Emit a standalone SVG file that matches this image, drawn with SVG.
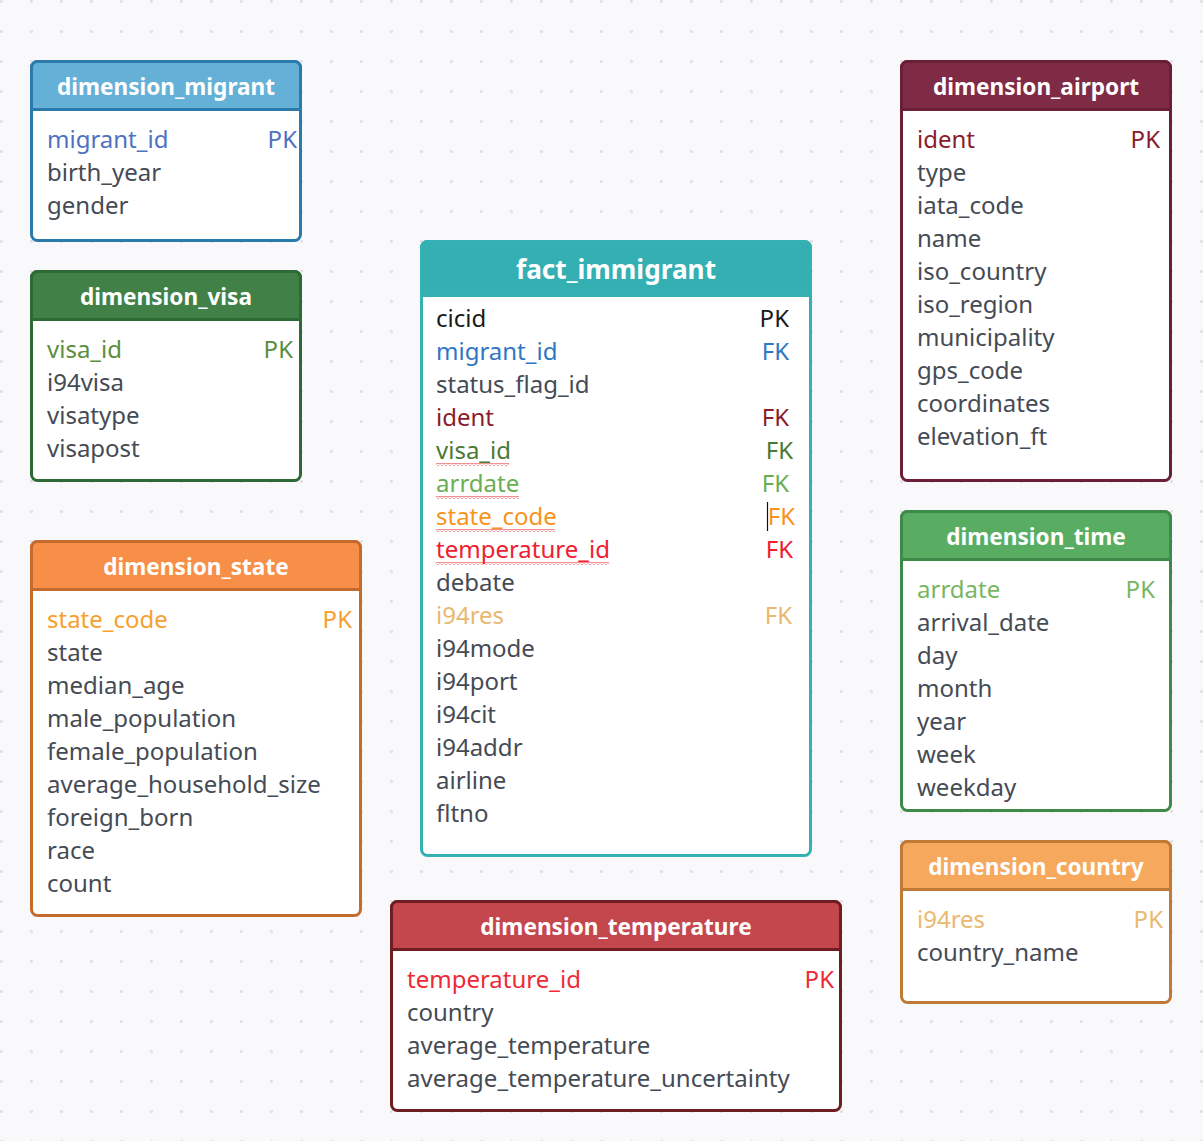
<svg xmlns="http://www.w3.org/2000/svg" width="1203" height="1141" viewBox="0 0 1203 1141">
<defs>
<pattern id="dots" x="0" y="0" width="30" height="30" patternUnits="userSpaceOnUse">
<circle cx="1.5" cy="1.5" r="1.6" fill="#e2e2e6"/>
</pattern>
<pattern id="squig" x="0" y="0" width="4" height="3" patternUnits="userSpaceOnUse">
<path d="M0,2.5 L2,0.5 L4,2.5" fill="none" stroke="#e8222a" stroke-width="1"/>
</pattern>
<style>
.f{font-family:"Noto Sans","Open Sans","DejaVu Sans",sans-serif;font-size:24px;fill:#454b54}
.h{font-family:"Noto Sans","Open Sans","DejaVu Sans",sans-serif;font-size:22.6px;font-weight:bold;fill:#ffffff;text-anchor:middle}
.hb{font-size:26.2px}
.r{text-anchor:end}
.body{fill:#ffffff;stroke-width:3}
</style>
</defs>
<rect width="1203" height="1141" fill="#f9f9fb"/>
<rect width="1203" height="1141" fill="url(#dots)"/>

<g id="dimension_migrant">
<rect x="31.5" y="61.5" width="269" height="179" rx="6" class="body" stroke="#2a7aab"/>
<path d="M31.5,109.5 V67.5 a6,6 0 0 1 6,-6 H294.5 a6,6 0 0 1 6,6 V109.5 Z" fill="#65b0d6" stroke="#2a7aab" stroke-width="3"/>
<text x="166" y="95" class="h">dimension_migrant</text>
<text x="47" y="148" class="f" style="fill:#4f72c0">migrant_id</text>
<text x="297" y="148" class="f r" style="fill:#4f72c0">PK</text>
<text x="47" y="181" class="f">birth_year</text>
<text x="47" y="214" class="f">gender</text>
</g>

<g id="dimension_visa">
<rect x="31.5" y="271.5" width="269" height="209" rx="6" class="body" stroke="#2d6a35"/>
<path d="M31.5,319.5 V277.5 a6,6 0 0 1 6,-6 H294.5 a6,6 0 0 1 6,6 V319.5 Z" fill="#418147" stroke="#2d6a35" stroke-width="3"/>
<text x="166" y="305" class="h">dimension_visa</text>
<text x="47" y="358" class="f" style="fill:#5a8f3e">visa_id</text>
<text x="293" y="358" class="f r" style="fill:#5a8f3e">PK</text>
<text x="47" y="391" class="f">i94visa</text>
<text x="47" y="424" class="f">visatype</text>
<text x="47" y="457" class="f">visapost</text>
</g>

<g id="dimension_state">
<rect x="31.5" y="541.5" width="329" height="374" rx="6" class="body" stroke="#c46a2c"/>
<path d="M31.5,589.5 V547.5 a6,6 0 0 1 6,-6 H354.5 a6,6 0 0 1 6,6 V589.5 Z" fill="#f88f48" stroke="#c46a2c" stroke-width="3"/>
<text x="196" y="575" class="h">dimension_state</text>
<text x="47" y="628" class="f" style="fill:#f7a02e">state_code</text>
<text x="352" y="628" class="f r" style="fill:#f7a02e">PK</text>
<text x="47" y="661" class="f">state</text>
<text x="47" y="694" class="f">median_age</text>
<text x="47" y="727" class="f">male_population</text>
<text x="47" y="760" class="f">female_population</text>
<text x="47" y="793" class="f">average_household_size</text>
<text x="47" y="826" class="f">foreign_born</text>
<text x="47" y="859" class="f">race</text>
<text x="47" y="892" class="f">count</text>
</g>

<g id="fact_immigrant">
<rect x="421.5" y="241.5" width="389" height="614" rx="6" class="body" stroke="#35b1b4"/>
<path d="M421.5,295.5 V247.5 a6,6 0 0 1 6,-6 H804.5 a6,6 0 0 1 6,6 V295.5 Z" fill="#34b0b3" stroke="#35b1b4" stroke-width="3"/>
<text x="616" y="279" class="h hb">fact_immigrant</text>
<text x="436" y="327" class="f" style="fill:#1a1a1a">cicid</text>
<text x="789" y="327" class="f r" style="fill:#1a1a1a">PK</text>
<text x="436" y="360" class="f" style="fill:#2f77c4">migrant_id</text>
<text x="789" y="360" class="f r" style="fill:#2f77c4">FK</text>
<text x="436" y="393" class="f">status_flag_id</text>
<text x="436" y="426" class="f" style="fill:#8b1c2b">ident</text>
<text x="789" y="426" class="f r" style="fill:#8b1c2b">FK</text>
<text x="436" y="459" class="f" style="fill:#4b7a35">visa_id</text>
<text x="793" y="459" class="f r" style="fill:#4b7a35">FK</text>
<text x="436" y="492" class="f" style="fill:#6aae53">arrdate</text>
<text x="789" y="492" class="f r" style="fill:#6aae53">FK</text>
<text x="436" y="525" class="f" style="fill:#f7941d">state_code</text>
<text x="795" y="525" class="f r" style="fill:#f7941d">FK</text>
<text x="436" y="558" class="f" style="fill:#ee2030">temperature_id</text>
<text x="793" y="558" class="f r" style="fill:#ee2030">FK</text>
<text x="436" y="591" class="f">debate</text>
<text x="436" y="624" class="f" style="fill:#e9b870">i94res</text>
<text x="792" y="624" class="f r" style="fill:#e9b870">FK</text>
<text x="436" y="657" class="f">i94mode</text>
<text x="436" y="690" class="f">i94port</text>
<text x="436" y="723" class="f">i94cit</text>
<text x="436" y="756" class="f">i94addr</text>
<text x="436" y="789" class="f">airline</text>
<text x="436" y="822" class="f">fltno</text>
<line x1="767.5" y1="502" x2="767.5" y2="531" stroke="#111" stroke-width="1.2"/>
<rect x="436" y="463" width="73" height="3" fill="url(#squig)"/>
<rect x="436" y="496" width="83" height="3" fill="url(#squig)"/>
<rect x="436" y="529" width="119" height="3" fill="url(#squig)"/>
<rect x="436" y="562" width="173" height="3" fill="url(#squig)"/>
</g>

<g id="dimension_temperature">
<rect x="391.5" y="901.5" width="449" height="209" rx="6" class="body" stroke="#6e1e23"/>
<path d="M391.5,949.5 V907.5 a6,6 0 0 1 6,-6 H834.5 a6,6 0 0 1 6,6 V949.5 Z" fill="#c5474e" stroke="#6e1e23" stroke-width="3"/>
<text x="616" y="935" class="h">dimension_temperature</text>
<text x="407" y="988" class="f" style="fill:#ef2a36">temperature_id</text>
<text x="834" y="988" class="f r" style="fill:#ef2a36">PK</text>
<text x="407" y="1021" class="f">country</text>
<text x="407" y="1054" class="f">average_temperature</text>
<text x="407" y="1087" class="f">average_temperature_uncertainty</text>
</g>

<g id="dimension_airport">
<rect x="901.5" y="61.5" width="269" height="419" rx="6" class="body" stroke="#6a1f37"/>
<path d="M901.5,109.5 V67.5 a6,6 0 0 1 6,-6 H1164.5 a6,6 0 0 1 6,6 V109.5 Z" fill="#7f2b46" stroke="#6a1f37" stroke-width="3"/>
<text x="1036" y="95" class="h">dimension_airport</text>
<text x="917" y="148" class="f" style="fill:#8b1c2b">ident</text>
<text x="1160" y="148" class="f r" style="fill:#8b1c2b">PK</text>
<text x="917" y="181" class="f">type</text>
<text x="917" y="214" class="f">iata_code</text>
<text x="917" y="247" class="f">name</text>
<text x="917" y="280" class="f">iso_country</text>
<text x="917" y="313" class="f">iso_region</text>
<text x="917" y="346" class="f">municipality</text>
<text x="917" y="379" class="f">gps_code</text>
<text x="917" y="412" class="f">coordinates</text>
<text x="917" y="445" class="f">elevation_ft</text>
</g>

<g id="dimension_time">
<rect x="901.5" y="511.5" width="269" height="299" rx="6" class="body" stroke="#3e8a48"/>
<path d="M901.5,559.5 V517.5 a6,6 0 0 1 6,-6 H1164.5 a6,6 0 0 1 6,6 V559.5 Z" fill="#59ad63" stroke="#3e8a48" stroke-width="3"/>
<text x="1036" y="545" class="h">dimension_time</text>
<text x="917" y="598" class="f" style="fill:#7ab662">arrdate</text>
<text x="1155" y="598" class="f r" style="fill:#7ab662">PK</text>
<text x="917" y="631" class="f">arrival_date</text>
<text x="917" y="664" class="f">day</text>
<text x="917" y="697" class="f">month</text>
<text x="917" y="730" class="f">year</text>
<text x="917" y="763" class="f">week</text>
<text x="917" y="796" class="f">weekday</text>
</g>

<g id="dimension_country">
<rect x="901.5" y="841.5" width="269" height="161" rx="6" class="body" stroke="#c07a35"/>
<path d="M901.5,889.5 V847.5 a6,6 0 0 1 6,-6 H1164.5 a6,6 0 0 1 6,6 V889.5 Z" fill="#f6a95d" stroke="#c07a35" stroke-width="3"/>
<text x="1036" y="875" class="h">dimension_country</text>
<text x="917" y="928" class="f" style="fill:#eab96f">i94res</text>
<text x="1163" y="928" class="f r" style="fill:#eab96f">PK</text>
<text x="917" y="961" class="f">country_name</text>
</g>

<g id="connectors"></g>
</svg>
